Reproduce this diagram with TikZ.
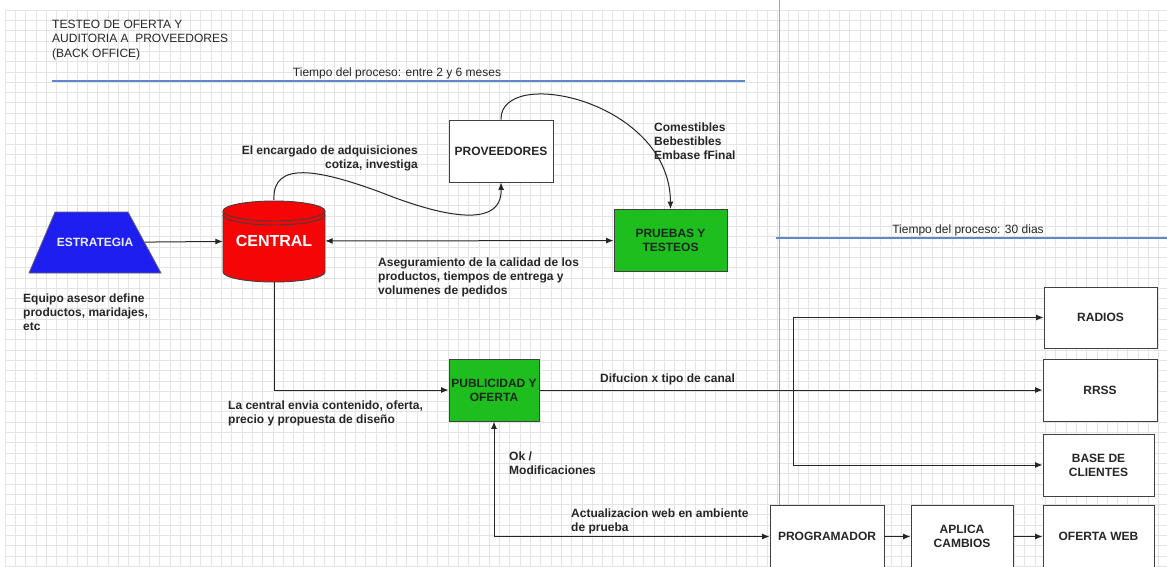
\documentclass[tikz,border=0pt]{standalone}
\usepackage{fontspec}
\setmainfont{Liberation Sans}
\usepackage{tikz}
\usetikzlibrary{arrows.meta,shapes}

\definecolor{gridgray}{RGB}{228,228,228}
\definecolor{pagegray}{RGB}{165,165,165}
\definecolor{timeblue}{RGB}{95,135,205}
\definecolor{stratblue}{RGB}{30,30,240}
\definecolor{centralred}{RGB}{245,5,5}
\definecolor{boxgreen}{RGB}{30,190,30}
\definecolor{darktext}{RGB}{25,40,25}

\tikzset{
  gridline/.style={gridgray, line width=0.6pt},
  timeline/.style={timeblue, line width=1.2pt},
  lbl/.style={font=\fontsize{12}{14}\selectfont\bfseries, align=left, inner sep=0pt, text=black!85},
  plain/.style={font=\fontsize{12}{14.5}\selectfont, align=left, inner sep=0pt, text=black!85},
  box/.style={draw=black!75, line width=0.9pt, fill=white, align=center,
    font=\fontsize{12}{14}\selectfont\bfseries, text=black!85},
  greenbox/.style={box, fill=boxgreen, text=darktext},
  arr/.style={-{Latex[length=7.5pt,width=6pt]}, line width=1pt, black!85},
  arrb/.style={{Latex[length=7.5pt,width=6pt]}-{Latex[length=7.5pt,width=6pt]}, line width=1pt, black!85}
}

\begin{document}
\begin{tikzpicture}[x=1pt, y=-1pt]
  \useasboundingbox[fill=white] (0,0) rectangle (1167,566);
  % grid
  \foreach \i in {0,...,112}
    \draw[gridline] ({5+\i*10.3},10) -- ++(0,556);
  \foreach \j in {0,...,54}
    \draw[gridline] (5,{10+\j*10.3}) -- (1167,{10+\j*10.3});
  \draw[pagegray, line width=0.8pt] (779,0) -- (779,566);

  \node[plain, anchor=west] (titulo) at (52,40) {TESTEO DE OFERTA Y\\AUDITORIA A~ PROVEEDORES\\(BACK OFFICE)};
  \draw[timeline] (52,81) -- (745,81);
  \node[plain] (tiempo1) at (397,73) {Tiempo del proceso: entre 2 y 6 meses};
  \draw[timeline] (776,238) -- (1167,238);
  \node[plain] (tiempo2) at (968,230.5) {Tiempo del proceso: 30 dias};

  % estrategia y central
  \draw[fill=stratblue, draw=black!60, line width=0.8pt]
    (29,273) -- (161,273) -- (128,212) -- (55,212) -- cycle;
  \node[minimum width=100pt, minimum height=61pt, inner sep=0pt, text=white!92!blue,
    font=\fontsize{12}{14}\selectfont\bfseries] (estrategia) at (95,242.5) {ESTRATEGIA};
  \node[lbl, anchor=west] (equipo) at (23,312.5) {Equipo asesor define\\productos, maridajes,\\etc};

  \draw[fill=centralred, draw=black!75, line width=0.9pt]
    (223,211) -- (223,272) arc[start angle=180, end angle=360, x radius=51pt, y radius=10pt]
    -- (325,211) arc[start angle=0, end angle=180, x radius=51pt, y radius=10pt] -- cycle;
  \draw[black!75, line width=0.9pt] (223,211) arc[start angle=180, end angle=360, x radius=51pt, y radius=10pt];
  \draw[black!75, line width=0.9pt] (223,215) arc[start angle=180, end angle=360, x radius=51pt, y radius=10pt];
  \node[minimum width=102pt, minimum height=82pt, inner sep=0pt, text=white,
    font=\fontsize{16}{18}\selectfont\bfseries] (central) at (274,241) {CENTRAL};

  \node[box, minimum width=104pt, minimum height=62pt] (proveedores) at (501,151) {PROVEEDORES};
  \node[greenbox, minimum width=113pt, minimum height=62pt] (pruebas) at (670.5,240.5) {PRUEBAS Y\\TESTEOS};
  \node[greenbox, minimum width=90pt, minimum height=62pt, inner sep=1pt] (publicidad) at (494,390) {PUBLICIDAD Y\\OFERTA};

  \draw[arr] (estrategia) -- (central);
  \draw[arrb] (central) -- (pruebas);
  \draw[arr] (central.north) .. controls (272,160) and (320,170) .. (380,192)
    .. controls (440,216) and (502,230) .. (proveedores.south);
  \draw[arr] (proveedores.north) .. controls (500,65) and (670,100) .. (pruebas.north);
  \draw[arr] (central.south) |- (publicidad.west);

  \node[lbl, anchor=east, align=right] (encargado) at (418,158.5) {El encargado de adquisiciones\\cotiza, investiga};
  \node[lbl, anchor=west] (comestibles) at (654,141.5) {Comestibles\\Bebestibles\\Embase fFinal};
  \node[lbl, anchor=west] (asegura) at (378,277) {Aseguramiento de la calidad de los\\productos, tiempos de entrega y\\volumenes de pedidos};
  \node[lbl, anchor=west] (envia) at (228,413) {La central envia contenido, oferta,\\precio y propuesta de diseño};

  % canales
  \node[box, minimum width=113pt, minimum height=61pt] (radios) at (1100.5,317.5) {RADIOS};
  \node[box, minimum width=114pt, minimum height=62pt] (rrss) at (1100,390) {RRSS};
  \node[box, minimum width=111pt, minimum height=62pt] (base) at (1098.5,465) {BASE DE\\CLIENTES};
  \coordinate (ramal) at (793,390);
  \draw[line width=1pt, black!85] (publicidad.east) -- (ramal);
  \draw[arr] (ramal) |- (radios);
  \draw[arr] (ramal) -- (rrss);
  \draw[arr] (ramal) |- (base);
  \node[lbl, anchor=west] (difucion) at (600,379) {Difucion x tipo de canal};

  % web
  \node[box, minimum width=114pt, minimum height=62pt] (programador) at (827,536.5) {PROGRAMADOR};
  \node[box, minimum width=102pt, minimum height=62pt] (aplica) at (962,536.5) {APLICA\\CAMBIOS};
  \node[box, minimum width=111pt, minimum height=62pt] (ofertaweb) at (1098.5,536.5) {OFERTA WEB};
  \draw[arrb] (publicidad.south) |- (programador.west);
  \draw[arr] (programador) -- (aplica);
  \draw[arr] (aplica) -- (ofertaweb);
  \node[lbl, anchor=west] (ok) at (509,463) {Ok /\\Modificaciones};
  \node[lbl, anchor=west] (actualiza) at (571,521) {Actualizacion web en ambiente\\de prueba};
\end{tikzpicture}
\end{document}
